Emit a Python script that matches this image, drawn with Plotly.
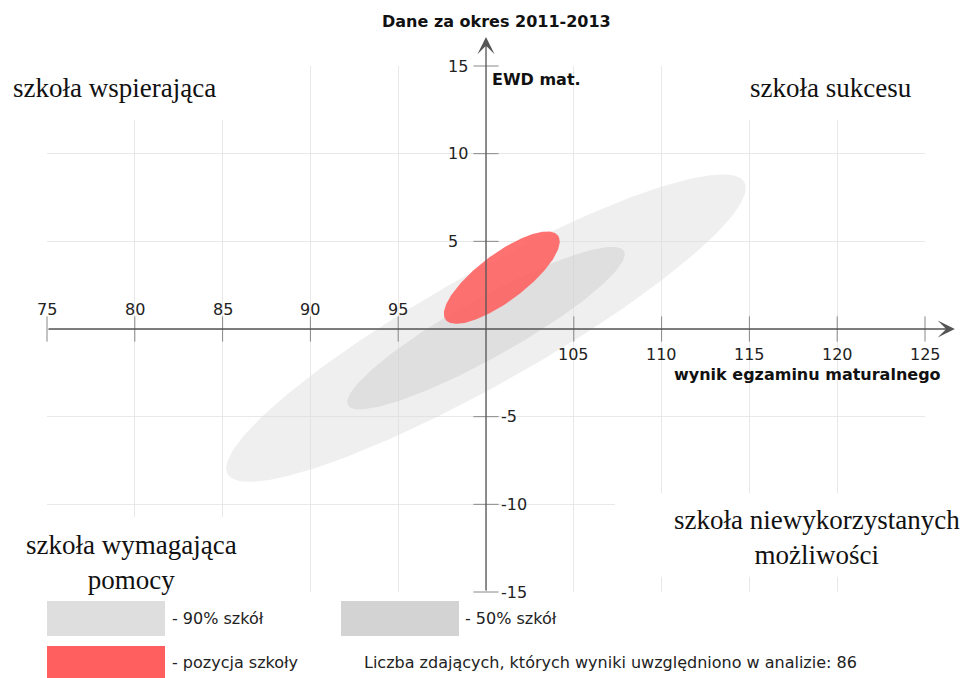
import numpy as np
import plotly.graph_objects as go

# axis ticks
x_ticks = [75, 80, 85, 90, 95, 105, 110, 115, 120, 125]
y_ticks = [15, 10, 5, -5, -10, -15]
x_center = 100
y_center = 0

# ellipses: 90% of schools, 50% of schools, school position
ell_names = ["90% szkół", "50% szkół", "pozycja szkoły"]
ell_cx = [100.0, 100.0, 100.9]
ell_cy = [0.05, 0.05, 2.93]
ell_a = [16.9, 9.0, 4.0]
ell_b = [3.17, 1.70, 1.35]
ell_angle = [29.5, 29.2, 36.9]
ell_colors = ["rgba(220,220,220,0.45)", "rgba(205,205,205,0.45)", "rgba(255,95,95,0.88)"]
swatch_colors = ["#dedede", "#d3d3d3", "#ff5f5f"]

n_students = 86

W, H = 963, 678
L, R, T, B = 47, 38, 66, 86
PW, PH = W - L - R, H - T - B


def px_x(p):
    return (p - L) / PW


def px_y(p):
    return (H - B - p) / PH


fig = go.Figure()

t = np.linspace(0, 2 * np.pi, 240)
for name, cx, cy, a, b, ang, col in zip(ell_names, ell_cx, ell_cy, ell_a, ell_b, ell_angle, ell_colors):
    th = np.radians(ang)
    ex = cx + a * np.cos(t) * np.cos(th) - b * np.sin(t) * np.sin(th)
    ey = cy + a * np.cos(t) * np.sin(th) + b * np.sin(t) * np.cos(th)
    fig.add_trace(go.Scatter(x=ex, y=ey, fill="toself", fillcolor=col, mode="lines",
                             line=dict(width=0), name=name, hoverinfo="skip"))

# tick marks on the central axes
fig.add_trace(go.Scatter(x=x_ticks, y=[y_center] * len(x_ticks), mode="markers",
                         marker=dict(symbol="line-ns", size=18, line=dict(width=1, color="#888")),
                         cliponaxis=False, hoverinfo="skip"))
fig.add_trace(go.Scatter(x=[x_center] * len(y_ticks), y=y_ticks, mode="markers",
                         marker=dict(symbol="line-ew", size=18, line=dict(width=1, color="#888")),
                         cliponaxis=False, hoverinfo="skip"))

tick_font = dict(family="DejaVu Sans", size=16, color="#222")
ann = []
for v in x_ticks:
    ann.append(dict(x=v, y=y_center, xref="x", yref="y", text=str(v), showarrow=False,
                    font=tick_font, xanchor="center",
                    yshift=20 if v < x_center else -25))
for v in y_ticks:
    ann.append(dict(x=x_center, y=v, xref="x", yref="y", text=str(v), showarrow=False,
                    font=tick_font, xanchor="left",
                    xshift=-40 if v > 0 else 13))

# axis lines with arrows
ann.append(dict(x=126.7, y=y_center, ax=75, ay=y_center, xref="x", yref="y", axref="x", ayref="y",
                text="", showarrow=True, arrowhead=3, arrowsize=2.2, arrowwidth=1.3, arrowcolor="#555",
                standoff=0))
ann.append(dict(x=x_center, y=16.65, ax=x_center, ay=-15, xref="x", yref="y", axref="x", ayref="y",
                text="", showarrow=True, arrowhead=3, arrowsize=2.2, arrowwidth=1.3, arrowcolor="#555",
                standoff=0))

bold = dict(family="DejaVu Sans", size=16, color="#111")
ann.append(dict(x=px_x(496), y=px_y(21), xref="paper", yref="paper", text="<b>Dane za okres 2011-2013</b>",
                showarrow=False, font=bold, xanchor="center", yanchor="middle"))
ann.append(dict(x=px_x(490), y=px_y(79), xref="paper", yref="paper", text="<b>EWD mat.</b>",
                showarrow=False, font=bold, xanchor="left", yanchor="middle"))
ann.append(dict(x=px_x(943), y=px_y(374), xref="paper", yref="paper", text="<b>wynik egzaminu maturalnego</b>",
                showarrow=False, font=bold, xanchor="right", yanchor="middle"))

serif = dict(family="Liberation Serif", size=27, color="#111")
ann.append(dict(x=px_x(114), y=px_y(88), xref="paper", yref="paper", text="szkoła wspierająca",
                showarrow=False, font=serif, xanchor="center", yanchor="middle"))
ann.append(dict(x=px_x(831), y=px_y(88), xref="paper", yref="paper", text="szkoła sukcesu",
                showarrow=False, font=serif, xanchor="center", yanchor="middle"))
ann.append(dict(x=px_x(131), y=px_y(562), xref="paper", yref="paper", text="szkoła wymagająca<br>pomocy",
                showarrow=False, font=serif, xanchor="center", yanchor="middle"))
ann.append(dict(x=px_x(817), y=px_y(537), xref="paper", yref="paper", text="szkoła niewykorzystanych<br>możliwości",
                showarrow=False, font=serif, xanchor="center", yanchor="middle"))

# legend
leg_font = dict(family="DejaVu Sans", size=16, color="#222")
shapes = []
swatches = [(47, 165, 601, 636), (341, 459, 601, 636), (47, 165, 646, 678)]
leg_text_pos = [(170, 618), (463, 618), (170, 662)]
for (x0, x1, y0, y1), col, name, (tx, ty) in zip(swatches, swatch_colors, ell_names, leg_text_pos):
    shapes.append(dict(type="rect", xref="paper", yref="paper", x0=px_x(x0), x1=px_x(x1),
                       y0=px_y(y1), y1=px_y(y0), fillcolor=col, line=dict(width=0)))
    ann.append(dict(x=px_x(tx), y=px_y(ty), xref="paper", yref="paper", text="- " + name,
                    showarrow=False, font=leg_font, xanchor="left", yanchor="middle"))
ann.append(dict(x=px_x(362), y=px_y(662), xref="paper", yref="paper",
                text="Liczba zdających, których wyniki uwzględniono w analizie: %d" % n_students,
                showarrow=False, font=leg_font, xanchor="left", yanchor="middle"))

# white boxes behind the quadrant labels hide parts of the grid
masks = [(0, 280, 0, 120), (687, 963, 0, 120), (0, 296, 517, 600), (615, 963, 493, 577)]
for x0, x1, y0, y1 in masks:
    shapes.append(dict(type="rect", xref="paper", yref="paper", x0=px_x(x0), x1=px_x(x1),
                       y0=px_y(y1), y1=px_y(y0), fillcolor="white", line=dict(width=0),
                       layer="above"))

fig.update_layout(
    width=W, height=H,
    margin=dict(l=L, r=R, t=T, b=B),
    paper_bgcolor="white", plot_bgcolor="white",
    showlegend=False,
    annotations=ann,
    shapes=shapes,
    xaxis=dict(range=[75, 125], tick0=75, dtick=5, showgrid=True, gridcolor="#e8e8e8", gridwidth=1,
               zeroline=False, showticklabels=False, ticks="", showline=False, fixedrange=True),
    yaxis=dict(range=[-15, 15], tick0=-15, dtick=5, showgrid=True, gridcolor="#e8e8e8", gridwidth=1,
               zeroline=False, showticklabels=False, ticks="", showline=False, fixedrange=True),
)

# page body has a default 8px margin; remove it so the figure fills the window
fig.write_html("out.html", config={"displayModeBar": False},
               post_script="document.body.style.margin='0';document.body.style.overflow='hidden';")
